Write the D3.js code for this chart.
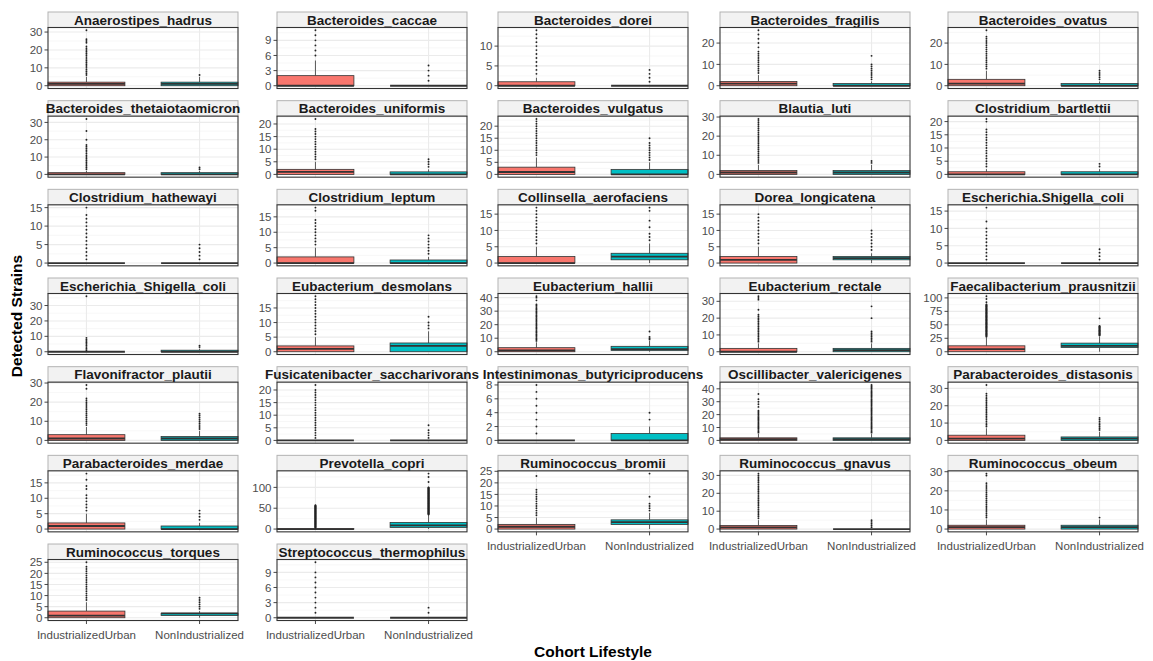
<!DOCTYPE html>
<html>
<head>
<meta charset="utf-8">
<script src="https://cdn.jsdelivr.net/npm/d3@7"></script>
<style>
  body { margin: 0; background: #fff; }
  svg { display: block; }
  text { font-family: "Liberation Sans", Arial, Helvetica, sans-serif; }
</style>
</head>
<body>
<svg id="chart" width="1153" height="661"></svg>
<script>
// Cohort lifestyle groups (x categories)
const groups = ["IndustrializedUrban", "NonIndustrialized"];

// Facet order
const species = [
  "Anaerostipes_hadrus", "Bacteroides_caccae", "Bacteroides_dorei", "Bacteroides_fragilis", "Bacteroides_ovatus",
  "Bacteroides_thetaiotaomicron", "Bacteroides_uniformis", "Bacteroides_vulgatus", "Blautia_luti", "Clostridium_bartlettii",
  "Clostridium_hathewayi", "Clostridium_leptum", "Collinsella_aerofaciens", "Dorea_longicatena", "Escherichia.Shigella_coli",
  "Escherichia_Shigella_coli", "Eubacterium_desmolans", "Eubacterium_hallii", "Eubacterium_rectale", "Faecalibacterium_prausnitzii",
  "Flavonifractor_plautii", "Fusicatenibacter_saccharivorans", "Intestinimonas_butyriciproducens", "Oscillibacter_valericigenes", "Parabacteroides_distasonis",
  "Parabacteroides_merdae", "Prevotella_copri", "Ruminococcus_bromii", "Ruminococcus_gnavus", "Ruminococcus_obeum",
  "Ruminococcus_torques", "Streptococcus_thermophilus"
];

// y-axis breaks of each facet (free y scales)
const yTicks = [
  [0,10,20,30], [0,3,6,9], [0,5,10], [0,10,20], [0,10,20],
  [0,10,20,30], [0,5,10,15,20], [0,5,10,15,20], [0,10,20,30], [0,5,10,15,20],
  [0,5,10,15], [0,5,10,15], [0,5,10,15], [0,5,10,15], [0,5,10,15],
  [0,10,20,30], [0,5,10,15], [0,10,20,30,40], [0,10,20,30], [0,25,50,75,100],
  [0,10,20,30], [0,5,10,15,20], [0,2,4,6,8], [0,10,20,30,40], [0,10,20,30],
  [0,5,10,15], [0,50,100], [0,5,10,15,20,25], [0,10,20,30], [0,10,20,30],
  [0,5,10,15,20,25], [0,3,6,9]
];

// Box statistics: [lower whisker, Q1, median, Q3, upper whisker]
const urbanBox = [
  [0,0,1,2,5], [0,0,0,2,5], [0,0,0,1,2], [0,0,1,2,5], [0,0,1,3,7],
  [0,0,0,1,2], [0,0,1,2,5], [0,0,1,3,7], [0,0,1,2,5], [0,0,0,1,2],
  [0,0,0,0,0], [0,0,0,2,5], [0,0,0,2,5], [0,0,1,2,5], [0,0,0,0,0],
  [0,0,0,0,0], [0,0,1,2,5], [0,0,1,3,7], [0,0,0,2,5], [0,0,5,11,27],
  [0,0,1,3,7], [0,0,0,0,0], [0,0,0,0,0], [0,0,1,2,5], [0,0,1,3,7],
  [0,0,1,2,5], [0,0,0,1,2], [0,0,1,2,5], [0,0,1,2,5], [0,0,1,2,5],
  [0,0,1,3,7], [0,0,0,0,0]
];
const nonBox = [
  [0,0,1,2,5], [0,0,0,0,0], [0,0,0,0,0], [0,0,0,1,2], [0,0,0,1,2],
  [0,0,0,1,2], [0,0,0,1,2], [0,0,0,2,5], [0,0,1,2,5], [0,0,0,1,2],
  [0,0,0,0,0], [0,0,0,1,2], [0,1,2,3,6], [0,1,1.5,2,3], [0,0,0,0,0],
  [0,0,0,1,2], [0,0,2,3,7], [0,1,2,4,8], [0,0,1,2,5], [0,8,11,16,28],
  [0,0,1,2,5], [0,0,0,0,0], [0,0,0,1,2], [0,0,1,2,5], [0,0,1,2,5],
  [0,0,0,1,2], [0,4,9,16,34], [0,2,3,4,7], [0,0,0,0,0], [0,0,1,2,5],
  [0,1,2,2,3], [0,0,0,0,0]
];

// Outlying strain counts beyond the whiskers
const urbanOutliers = [
  [6,7,8,9,10,11,12,13,14,15,16,17,18,19,20,21,22,24,25,26,31],
  [6,7,8,9,10,11],
  [3,4,5,6,7,8,9,10,11,12,13,14],
  [6,7,8,9,10,11,12,13,14,15,16,18,20,22,24,26],
  [8,9,10,11,12,13,14,15,16,17,18,19,20,21,22,23,26],
  [3,4,5,6,7,8,9,10,11,12,13,14,15,16,17,20,25,32],
  [6,7,8,9,10,11,12,13,14,15,16,17,18,22],
  [8,9,10,11,12,13,14,15,16,17,18,19,20,21,22,23],
  [6,7,8,9,10,11,12,13,14,15,16,17,18,19,20,21,22,23,24,25,26,27,28,29],
  [3,4,5,6,7,8,9,10,11,12,13,14,15,16,17,20,21],
  [1,2,3,4,5,6,7,8,9,10,11,12,13,15],
  [6,7,8,9,10,11,12,13,14,17,18],
  [6,7,8,9,10,11,12,13,14,15,16,17],
  [6,7,8,9,10,11,12,13,14,15],
  [1,2,3,4,5,6,7,8,9,10,12,16],
  [1,2,3,4,5,6,7,8,9,36],
  [6,7,8,9,10,11,12,13,14,15,16,17,18,19],
  [8,9,10,11,12,13,14,15,16,17,18,19,20,21,22,23,24,25,26,27,28,29,30,31,32,33,34,35,38,40,41],
  [6,7,8,9,10,11,12,13,14,15,16,17,18,19,20,21,22,25,31,32,33],
  [28,29,30,31,32,33,34,35,36,37,38,39,40,41,42,43,44,45,46,47,48,49,50,51,52,53,54,55,56,57,58,
   59,60,61,62,63,64,65,66,67,68,69,70,71,72,73,74,75,76,77,78,79,80,81,82,83,84,85,86,87,88,92,98,103],
  [8,9,10,11,12,13,14,15,16,17,18,19,20,21,22,27,29],
  [1,2,3,4,5,6,7,8,9,10,11,12,13,14,15,16,17,18,19,20,22],
  [1,2,3,4,5,6,7,8],
  [6,7,8,9,10,11,12,13,14,15,16,17,18,19,20,21,22,23,26,28,30,32,36],
  [8,9,10,11,12,13,14,15,16,17,18,19,20,21,22,23,24,25,26,27,32],
  [6,7,8,9,10,11,13,14,16,18],
  [3,4,5,6,7,8,9,10,11,12,13,14,15,16,17,18,19,20,21,22,23,24,25,26,27,28,29,30,
   31,32,33,34,35,36,37,38,39,40,41,42,43,44,45,46,47,48,49,50,51,52,53,54,55,56,57],
  [6,7,8,9,10,11,12,13,14,15,16,17,23],
  [6,7,8,9,10,11,12,13,14,15,16,17,18,19,20,21,22,23,24,25,26,27,28,29,30,31],
  [6,7,8,9,10,11,12,13,14,15,16,17,18,19,20,21,22,23,24,28,29],
  [8,9,10,11,12,13,14,15,16,17,18,19,20,21,22,23,25],
  [1,2,3,4,5,6,7,8,9,11]
];
const nonOutliers = [
  [6],
  [1,2,3,4],
  [1,2,3,4],
  [3,4,5,6,7,8,9,10,14],
  [3,4,5,6,7],
  [3,4],
  [3,4,5,6],
  [6,7,8,9,10,11,12,13,15],
  [6,7],
  [3,4],
  [1,2,3,4,5],
  [3,4,5,6,7,8,9],
  [7,8,9,11,13,16,17],
  [4,5,6,7,8,9,10,17],
  [1,2,3,4],
  [3,4],
  [8,9,10,12],
  [9,10,11,15],
  [6,7,8,9,10,11,12,20,27],
  [30,31,32,33,34,35,36,37,38,39,40,41,42,43,44,45,46,47,48,62],
  [6,7,8,9,10,11,12,13,14],
  [1,2,3,4,6],
  [3,4],
  [6,7,8,9,10,11,12,13,14,15,16,17,18,19,20,21,22,23,24,25,26,27,28,29,30,31,32,33,34,35,36,37,38,39,40,41,42,43],
  [6,7,8,9,10,11,12,13],
  [3,4,5,6],
  [35,36,37,38,39,40,41,42,43,44,45,46,47,48,49,50,51,52,53,54,55,56,57,58,59,60,61,62,63,64,65,66,67,
   68,69,70,71,72,73,74,75,76,77,78,79,80,81,82,83,84,85,86,87,88,89,90,91,92,93,94,95,96,97,98,99,100,113,125,133],
  [8,9,10,11,14,24],
  [1,2,3,4,5],
  [6],
  [4,5,6,7,8,9],
  [1,2]
];

// ---- layout ----
const nCol = 5;
const colLeft = [48, 277, 498, 720, 948];
const panelW = 190;
const rowPitch = 88.67;
const firstTop = 12;
const stripH = 15.5;
const plotH = 61;
const fills = ["#F8766D", "#00BFC4"];
const ink = "#333333";

const svg = d3.select("#chart");

species.forEach((name, i) => {
  const col = i % nCol, row = Math.floor(i / nCol);
  const x0 = colLeft[col];
  const top = firstTop + row * rowPitch;
  const stats = [urbanBox[i], nonBox[i]];
  const outs = [urbanOutliers[i], nonOutliers[i]];
  const ymax = d3.max([...stats.map(s => s[4]), ...outs.flat()]);
  const pad = ymax * 0.05;

  const y = d3.scaleLinear().domain([-pad, ymax + pad]).range([plotH, 0]);
  const x = d3.scalePoint().domain(groups).range([0, panelW]).padding(0.34);
  const bw = x.step() * 0.68;

  // strip
  svg.append("rect")
    .attr("x", x0).attr("y", top).attr("width", panelW).attr("height", stripH)
    .attr("fill", "#F2F2F2").attr("stroke", "#B3B3B3").attr("stroke-width", 1);
  svg.append("text")
    .attr("x", x0 + panelW / 2).attr("y", top + stripH - 3)
    .attr("text-anchor", "middle")
    .attr("font-size", "13.5px").attr("font-weight", "bold").attr("fill", "#1A1A1A")
    .text(name);

  const g = svg.append("g").attr("transform", `translate(${x0},${top + stripH})`);

  g.append("rect").attr("width", panelW).attr("height", plotH).attr("fill", "#fff");

  // grid
  const ticks = yTicks[i];
  const step = ticks[1] - ticks[0];
  const minor = ticks.map(t => t + step / 2).filter(t => t <= ymax + pad);
  g.selectAll(".minor").data(minor).join("line")
    .attr("x1", 0).attr("x2", panelW)
    .attr("y1", d => y(d)).attr("y2", d => y(d))
    .attr("stroke", "#F2F2F2").attr("stroke-width", 0.6);
  g.selectAll(".major").data(ticks).join("line")
    .attr("x1", 0).attr("x2", panelW)
    .attr("y1", d => y(d)).attr("y2", d => y(d))
    .attr("stroke", "#EBEBEB").attr("stroke-width", 1.1);
  g.selectAll(".vgrid").data(groups).join("line")
    .attr("x1", d => x(d)).attr("x2", d => x(d))
    .attr("y1", 0).attr("y2", plotH)
    .attr("stroke", "#EBEBEB").attr("stroke-width", 1.1);

  // boxes
  groups.forEach((grp, k) => {
    const s = stats[k];
    const cx = x(grp);
    // whiskers
    g.append("line").attr("x1", cx).attr("x2", cx)
      .attr("y1", y(s[3])).attr("y2", y(s[4]))
      .attr("stroke", ink).attr("stroke-width", 0.8);
    g.append("line").attr("x1", cx).attr("x2", cx)
      .attr("y1", y(s[1])).attr("y2", y(s[0]))
      .attr("stroke", ink).attr("stroke-width", 0.8);
    // box
    g.append("rect")
      .attr("x", cx - bw / 2).attr("width", bw)
      .attr("y", y(s[3])).attr("height", Math.max(0, y(s[1]) - y(s[3])))
      .attr("fill", fills[k]).attr("stroke", ink).attr("stroke-width", 0.8);
    // median
    g.append("line")
      .attr("x1", cx - bw / 2).attr("x2", cx + bw / 2)
      .attr("y1", y(s[2])).attr("y2", y(s[2]))
      .attr("stroke", ink).attr("stroke-width", 1.8);
    // outliers
    g.selectAll(null).data(outs[k]).join("circle")
      .attr("cx", cx).attr("cy", d => y(d)).attr("r", 0.95)
      .attr("fill", "#222");
  });

  // panel border
  g.append("rect").attr("width", panelW).attr("height", plotH)
    .attr("fill", "none").attr("stroke", ink).attr("stroke-width", 1.1);

  // y axis
  const ya = g.append("g");
  ya.selectAll("line").data(ticks).join("line")
    .attr("x1", -3.5).attr("x2", 0)
    .attr("y1", d => y(d)).attr("y2", d => y(d))
    .attr("stroke", ink).attr("stroke-width", 0.9);
  ya.selectAll("text").data(ticks).join("text")
    .attr("x", -5.5).attr("y", d => y(d)).attr("dy", "0.36em")
    .attr("text-anchor", "end").attr("font-size", "11.5px").attr("fill", "#4D4D4D")
    .text(d => d);

  // x axis only where no facet sits below
  if (i + nCol >= species.length) {
    const xa = g.append("g").attr("transform", `translate(0,${plotH})`);
    xa.selectAll("line").data(groups).join("line")
      .attr("x1", d => x(d)).attr("x2", d => x(d))
      .attr("y1", 0).attr("y2", 3.5)
      .attr("stroke", ink).attr("stroke-width", 0.9);
    xa.selectAll("text").data(groups).join("text")
      .attr("x", d => x(d)).attr("y", 18.5)
      .attr("text-anchor", "middle").attr("font-size", "11.5px").attr("fill", "#4D4D4D")
      .text(d => d);
  }
});

// axis titles
svg.append("text")
  .attr("x", (colLeft[0] + colLeft[nCol - 1] + panelW) / 2).attr("y", 657)
  .attr("text-anchor", "middle").attr("font-size", "15.5px").attr("font-weight", "bold")
  .attr("fill", "#000").text("Cohort Lifestyle");
svg.append("text")
  .attr("transform", `translate(22,316) rotate(-90)`)
  .attr("text-anchor", "middle").attr("font-size", "15.5px").attr("font-weight", "bold")
  .attr("fill", "#000").text("Detected Strains");
</script>
</body>
</html>
